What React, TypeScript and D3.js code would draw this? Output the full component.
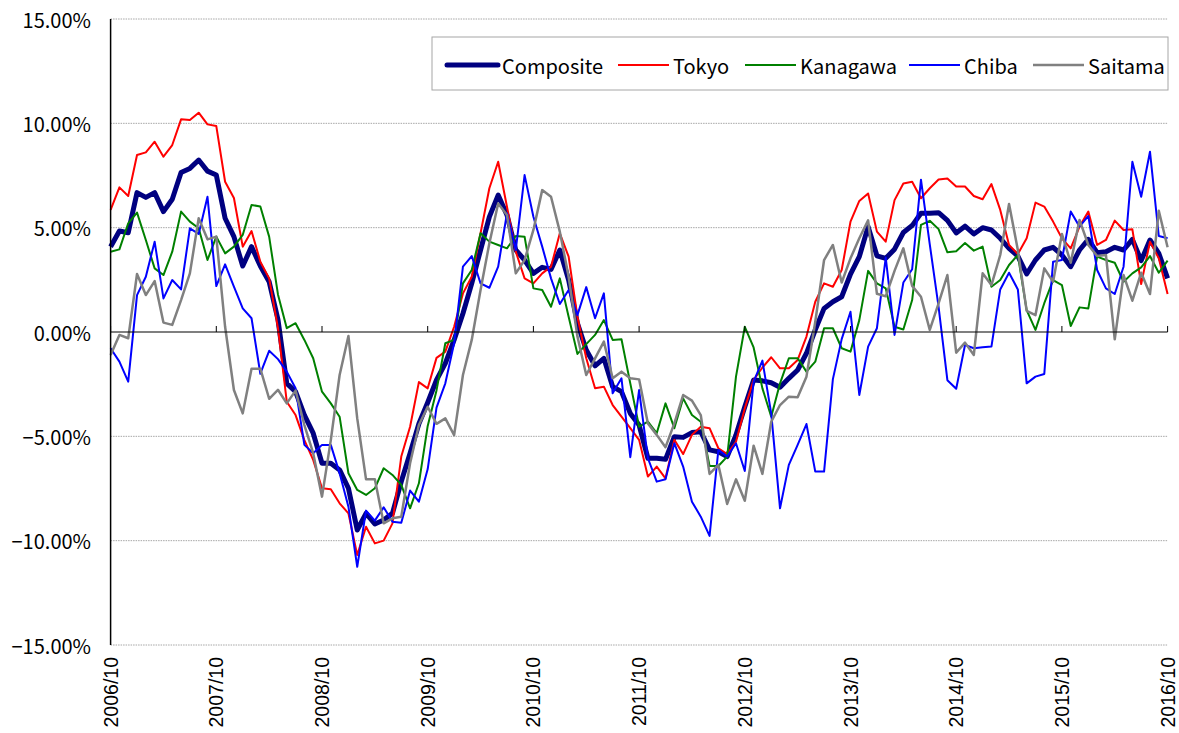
import * as d3 from 'd3';

const tickLabels = ['2006/10', '2007/10', '2008/10', '2009/10', '2010/10', '2011/10', '2012/10', '2013/10', '2014/10', '2015/10', '2016/10'];
const yTicks = [15, 10, 5, 0, -5, -10, -15];

const composite = [
  4.09, 4.84, 4.76, 6.68, 6.45, 6.68, 5.77, 6.36, 7.64, 7.84, 8.24, 7.71, 7.52, 5.45, 4.57, 3.16, 4.09, 3.16, 2.41, 0.6,
  -2.46, -2.86, -3.98, -4.85, -6.29, -6.29, -6.61, -7.49, -9.49, -8.69, -9.2, -9.01, -8.69, -7.17, -5.81, -4.4, -3.38, -2.3, -1.5, -0.38,
  0.89, 2.33, 3.93, 5.52, 6.56, 5.61, 3.93, 3.45, 2.81, 3.1, 3.0, 3.93, 2.49, 0.42, -0.86, -1.62, -1.26, -2.62, -2.86, -3.9,
  -4.46, -6.05, -6.05, -6.1, -5.02, -5.05, -4.82, -4.78, -5.65, -5.74, -5.97, -4.93, -3.58, -2.3, -2.34, -2.43, -2.65, -2.22, -1.82, -1.02,
  0.1, 1.13, 1.45, 1.69, 2.77, 3.61, 5.05, 3.65, 3.53, 3.97, 4.77, 5.1, 5.69, 5.69, 5.72, 5.35, 4.75, 5.07, 4.7, 5.0,
  4.89, 4.49, 4.01, 3.64, 2.78, 3.45, 3.93, 4.06, 3.69, 3.13, 3.93, 4.44, 3.8, 3.85, 4.06, 3.93, 4.44, 3.42, 4.41, 3.77,
  2.57,
];

const tokyo = [
  5.85, 6.93, 6.52, 8.48, 8.61, 9.12, 8.4, 8.96, 10.19, 10.16, 10.51, 9.95, 9.87, 7.2, 6.42, 4.09, 4.84, 3.37, 2.57, 0.2,
  -3.34, -3.98, -5.18, -6.13, -7.49, -7.54, -8.21, -8.69, -10.69, -9.33, -10.13, -10.0, -9.17, -5.97, -4.54, -2.4, -2.7, -1.24, -0.94, 0.25,
  1.85, 2.65, 4.73, 6.89, 8.16, 6.0, 3.85, 2.57, 2.33, 2.81, 3.13, 4.73, 3.61, 0.73, -1.26, -2.7, -2.62, -3.5, -4.06, -4.61,
  -5.17, -6.93, -6.45, -7.01, -5.17, -5.85, -4.93, -4.54, -4.61, -5.57, -5.85, -5.26, -3.66, -2.3, -1.7, -1.21, -1.74, -1.74, -1.34, -0.22,
  1.45, 2.33, 2.17, 2.97, 5.29, 6.28, 6.64, 4.81, 4.33, 6.32, 7.12, 7.2, 6.41, 6.89, 7.31, 7.36, 6.97, 6.97, 6.52, 6.36,
  7.09, 5.85, 4.17, 3.74, 4.49, 6.2, 6.01, 5.29, 4.49, 4.01, 5.05, 5.77, 4.17, 4.41, 5.34, 4.89, 4.92, 2.3, 4.33, 3.53,
  1.82,
];

const kanagawa = [
  3.85, 3.96, 5.21, 5.72, 4.41, 3.05, 2.73, 3.85, 5.77, 5.29, 4.97, 3.45, 4.57, 3.77, 4.09, 4.65, 6.09, 6.01, 4.57, 1.8,
  0.18, 0.42, -0.38, -1.26, -2.86, -3.42, -4.06, -6.77, -7.57, -7.81, -7.49, -6.53, -6.85, -7.33, -8.45, -7.25, -4.5, -2.8, -0.54, -0.38,
  2.33, 2.97, 4.73, 4.33, 4.17, 4.01, 4.6, 4.57, 2.09, 2.01, 1.21, 2.57, 0.73, -1.05, -0.58, -0.14, 0.57, -0.38, -0.35, -2.46,
  -4.54, -4.3, -4.85, -3.42, -4.61, -3.18, -3.98, -4.3, -6.42, -6.42, -5.97, -2.14, 0.25, -0.74, -2.7, -4.06, -2.46, -1.26, -1.26, -1.9,
  -1.42, 0.18, 0.18, -0.78, -0.94, 0.57, 2.93, 2.33, 2.09, 0.25, 0.12, 1.53, 5.13, 5.33, 4.93, 3.82, 3.87, 4.26, 3.9, 4.09,
  2.17, 2.49, 3.21, 3.69, 1.05, 0.1, 1.38, 2.49, 2.25, 0.29, 1.18, 1.13, 3.61, 3.45, 3.32, 2.41, 2.81, 3.1, 3.64, 2.84,
  3.42,
];

const chiba = [
  -0.78, -1.42, -2.38, 1.77, 2.65, 4.33, 1.61, 2.49, 2.04, 4.97, 4.7, 6.48, 2.2, 3.24, 2.17, 1.13, 0.66, -2.0, -0.9, -1.3,
  -1.9, -2.7, -5.41, -5.81, -5.41, -5.41, -6.77, -8.37, -11.25, -8.56, -9.04, -8.4, -9.09, -9.14, -7.6, -8.13, -6.57, -3.62, -2.46, -0.54,
  3.13, 3.64, 2.33, 2.12, 3.13, 5.69, 3.93, 7.52, 5.52, 4.09, 2.57, 1.34, 2.01, 0.81, 2.15, 0.66, 1.85, -2.94, -2.22, -6.0,
  -2.78, -6.05, -7.17, -7.06, -5.33, -6.45, -8.13, -8.85, -9.77, -5.65, -5.97, -5.33, -6.66, -2.38, -1.37, -3.9, -8.45, -6.37, -5.41, -4.41,
  -6.69, -6.69, -2.26, -0.34, 0.97, -3.02, -0.7, 0.18, 3.57, -0.14, 2.37, 3.01, 7.3, 4.2, 1.2, -2.31, -2.72, -0.62, -0.78, -0.73,
  -0.7, 2.04, 2.84, 2.04, -2.46, -2.14, -2.01, 3.37, 3.45, 5.77, 5.05, 5.56, 2.97, 2.09, 1.82, 3.13, 8.16, 6.48, 8.64, 4.6,
  4.49,
];

const saitama = [
  -1.1, -0.14, -0.3, 2.78, 1.77, 2.44, 0.45, 0.34, 1.53, 2.81, 5.45, 4.44, 4.57, 0.25, -2.78, -3.9, -1.76, -1.76, -3.2, -2.77,
  -3.42, -2.81, -4.46, -5.81, -7.89, -5.18, -2.06, -0.19, -4.14, -7.06, -7.06, -9.17, -8.93, -8.85, -6.29, -4.46, -3.58, -4.4, -4.14, -4.94,
  -2.06, -0.38, 2.01, 4.25, 6.16, 5.61, 2.81, 3.45, 4.89, 6.8, 6.48, 4.81, 2.65, -0.22, -2.06, -1.26, -0.46, -2.22, -1.9, -2.22,
  -2.27, -4.38, -4.93, -5.52, -4.38, -3.02, -3.29, -3.98, -6.8, -6.37, -8.24, -7.06, -8.09, -5.45, -6.8, -4.3, -3.5, -3.1, -3.13, -2.14,
  0.49, 3.45, 4.17, 2.37, 3.53, 4.49, 5.35, 1.83, 1.71, 2.93, 4.01, 2.21, 1.69, 0.1, 1.37, 2.73, -0.99, -0.51, -1.1, 2.81,
  2.25, 3.69, 6.13, 3.93, 1.01, 0.81, 3.05, 2.41, 4.7, 3.32, 5.37, 4.17, 3.64, 3.69, -0.35, 2.73, 1.5, 2.84, 1.82, 5.81,
  4.06,
];

const seriesNames = ['Composite', 'Tokyo', 'Kanagawa', 'Chiba', 'Saitama'];
const seriesValues = [composite, tokyo, kanagawa, chiba, saitama];
const seriesColors = ['#000080', '#ff0000', '#008000', '#0000ff', '#808080'];
const seriesWidths = [5, 2, 2, 2, 2.5];

const FONT = "'Noto Sans CJK JP', 'Noto Sans', sans-serif";
// narrower line box so the last rotated label stays inside the page
const AXIS_FONT = "'Liberation Sans', Arial, sans-serif";

export default function App() {
  const width = 1179;
  const height = 733;
  const margin = { left: 110.6, right: 11.4, top: 19, bottom: 88 };

  const x = d3.scaleLinear().domain([0, 120]).range([margin.left, width - margin.right]);
  const y = d3.scaleLinear().domain([-15, 15]).range([height - margin.bottom, margin.top]);

  const line = d3
    .line<number>()
    .x((_d, i) => x(i))
    .y((d) => y(d));

  // legend layout
  const legendLineX = [447, 618, 745, 909, 1033];
  const legendY = 65;

  return (
    <svg
      width={width}
      height={height}
      style={{ position: 'absolute', left: 0, top: 0, background: '#fff' }}
      fontFamily={FONT}
    >
      {/* horizontal gridlines */}
      {yTicks
        .filter((t) => t !== 0)
        .map((t) => (
          <line
            key={t}
            x1={x(0)}
            x2={x(120)}
            y1={y(t)}
            y2={y(t)}
            stroke="#a6a6a6"
            strokeWidth={1}
            strokeDasharray="1.5 1"
          />
        ))}

      {/* y labels */}
      {yTicks.map((t) => (
        <text
          key={t}
          x={91}
          y={y(t)}
          textAnchor="end"
          dominantBaseline="central"
          fontSize={20}
          fill="#000"
        >
          {(t < 0 ? '\u2212' : '') + Math.abs(t).toFixed(2) + '%'}
        </text>
      ))}

      {/* series */}
      {seriesValues.map((vals, k) => (
        <path
          key={seriesNames[k]}
          d={line(vals) ?? ''}
          fill="none"
          stroke={seriesColors[k]}
          strokeWidth={seriesWidths[k]}
          strokeLinejoin="round"
        />
      ))}

      {/* zero line + ticks */}
      <line x1={x(0)} x2={x(120)} y1={y(0)} y2={y(0)} stroke="#000" strokeWidth={1.2} />
      {tickLabels.map((lab, i) => (
        <line key={lab} x1={x(i * 12)} x2={x(i * 12)} y1={y(0)} y2={y(0) - 6} stroke="#000" strokeWidth={1} />
      ))}
      {/* y axis */}
      <line x1={x(0)} x2={x(0)} y1={y(15)} y2={y(-15)} stroke="#000" strokeWidth={1.5} />

      {/* x labels */}
      {tickLabels.map((lab, i) => (
        <text
          key={lab}
          transform={`translate(${x(i * 12)},${657}) rotate(-90)`}
          textAnchor="end"
          dominantBaseline="central"
          fontFamily={AXIS_FONT}
          fontSize={19.5}
          fill="#000"
        >
          {lab}
        </text>
      ))}

      {/* legend */}
      <rect x={432} y={37} width={736} height={53} fill="#fff" stroke="#a6a6a6" strokeWidth={1} />
      {seriesNames.map((name, k) => (
        <g key={name}>
          <line
            x1={legendLineX[k]}
            x2={legendLineX[k] + 51}
            y1={legendY}
            y2={legendY}
            stroke={seriesColors[k]}
            strokeWidth={seriesWidths[k]}
            strokeLinecap={k === 0 ? 'round' : 'butt'}
          />
          <text x={legendLineX[k] + 55} y={legendY} dominantBaseline="central" fontSize={20} fill="#000">
            {name}
          </text>
        </g>
      ))}
    </svg>
  );
}
